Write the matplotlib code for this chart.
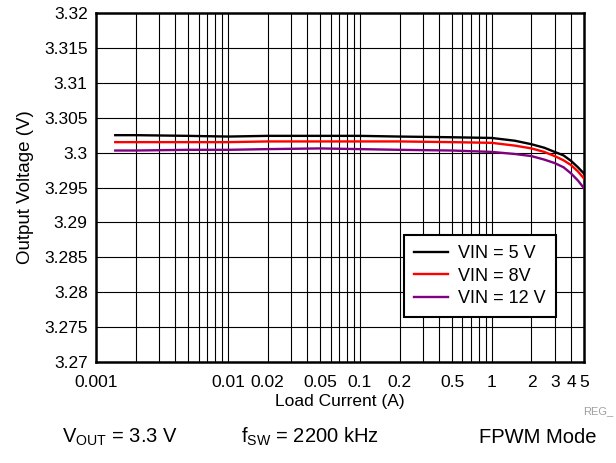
import numpy as np
import matplotlib.pyplot as plt

plt.rcParams['font.family'] = ['Liberation Sans', 'DejaVu Sans']

# ---------------------------------
# DATA
# ---------------------------------
load_current = [0.0014, 0.002, 0.005, 0.01, 0.02, 0.05, 0.1, 0.2, 0.5, 1.0,
                1.5, 2.0, 2.5, 3.0, 3.5, 4.0, 4.5, 5.0]
vout_vin5 = [3.3025, 3.3025, 3.3024, 3.3023, 3.3024, 3.3024, 3.3024, 3.3023, 3.3022, 3.3021,
             3.3017, 3.3012, 3.3007, 3.3001, 3.2996, 3.2988, 3.2979, 3.2970]
vout_vin8 = [3.3015, 3.3015, 3.3015, 3.3015, 3.3016, 3.3016, 3.3016, 3.3016, 3.3015, 3.3014,
             3.3010, 3.3006, 3.3001, 3.2995, 3.2989, 3.2982, 3.2973, 3.2963]
vout_vin12 = [3.3003, 3.3003, 3.3004, 3.3004, 3.3005, 3.3006, 3.3005, 3.3004, 3.3003, 3.3001,
              3.2998, 3.2995, 3.2990, 3.2985, 3.2979, 3.2970, 3.2960, 3.2949]

series_labels = ["VIN = 5 V", "VIN = 8V", "VIN = 12 V"]
series_colors = ["black", "#ff0000", "#800080"]

xtick_values = [0.001, 0.01, 0.02, 0.05, 0.1, 0.2, 0.5, 1, 2, 3, 4, 5]
xtick_labels = ["0.001", "0.01", "0.02", "0.05", "0.1", "0.2", "0.5", "1", "2", "3", "4", "5"]
ytick_values = [3.27, 3.275, 3.28, 3.285, 3.29, 3.295, 3.3, 3.305, 3.31, 3.315, 3.32]
ytick_labels = ["3.27", "3.275", "3.28", "3.285", "3.29", "3.295", "3.3", "3.305", "3.31", "3.315", "3.32"]

# ---------------------------------
# PLOT
# ---------------------------------
fig = plt.figure(figsize=(6.16, 4.63), dpi=100)
ax = fig.add_axes([0.1558, 0.2181, 0.7922, 0.7538])

ax.set_xscale('log')
ax.set_xlim(0.001, 5)
ax.set_ylim(3.27, 3.32)

# grid: every decade sub-step on x, every tick on y
grid_x = [m * 10.0**k for k in range(-3, 1) for m in range(1, 10)]
for gx in grid_x:
    if 0.001 < gx < 5:
        ax.axvline(gx, color='black', lw=0.8, zorder=1)
for gy in ytick_values[1:-1]:
    ax.axhline(gy, color='black', lw=0.8, zorder=1)

for ys, lab, col in zip([vout_vin5, vout_vin8, vout_vin12], series_labels, series_colors):
    ax.plot(load_current, ys, color=col, lw=1.7, label=lab, zorder=3)

ax.set_xticks(xtick_values)
ax.set_xticklabels(xtick_labels)
ax.xaxis.set_minor_locator(plt.NullLocator())
ax.set_yticks(ytick_values)
ax.set_yticklabels(ytick_labels)
ax.tick_params(axis='both', length=0, labelsize=12.5)
ax.tick_params(axis='y', pad=6)
ax.tick_params(axis='x', pad=9)

for sp in ax.spines.values():
    sp.set_linewidth(1.8)

ax.set_xlabel("Load Current (A)", fontsize=12.5, labelpad=3)
ax.set_ylabel("Output Voltage (V)", fontsize=13.5, labelpad=7)

leg = ax.legend(loc='lower left', bbox_to_anchor=(0.631, 0.129), borderaxespad=0,
                fontsize=13, fancybox=False, framealpha=1, edgecolor='black',
                handlelength=1.9, handletextpad=0.55, labelspacing=0.3, borderpad=0.55)
leg.get_frame().set_linewidth(1.5)
leg.set_zorder(5)

fig.text(0.947, 0.113, "REG_", fontsize=8, color='#a0a0a0', ha='left', va='center')

fig.text(0.10, 0.056, r"V$_{\mathregular{OUT}}$ = 3.3 V", fontsize=14.5, ha='left', va='center')
fig.text(0.392, 0.056, r"f$_{\mathregular{SW}}$ = 2200 kHz", fontsize=14.5, ha='left', va='center')
fig.text(0.778, 0.056, "FPWM Mode", fontsize=14.5, ha='left', va='center')

fig.savefig("out.png", dpi=100)
